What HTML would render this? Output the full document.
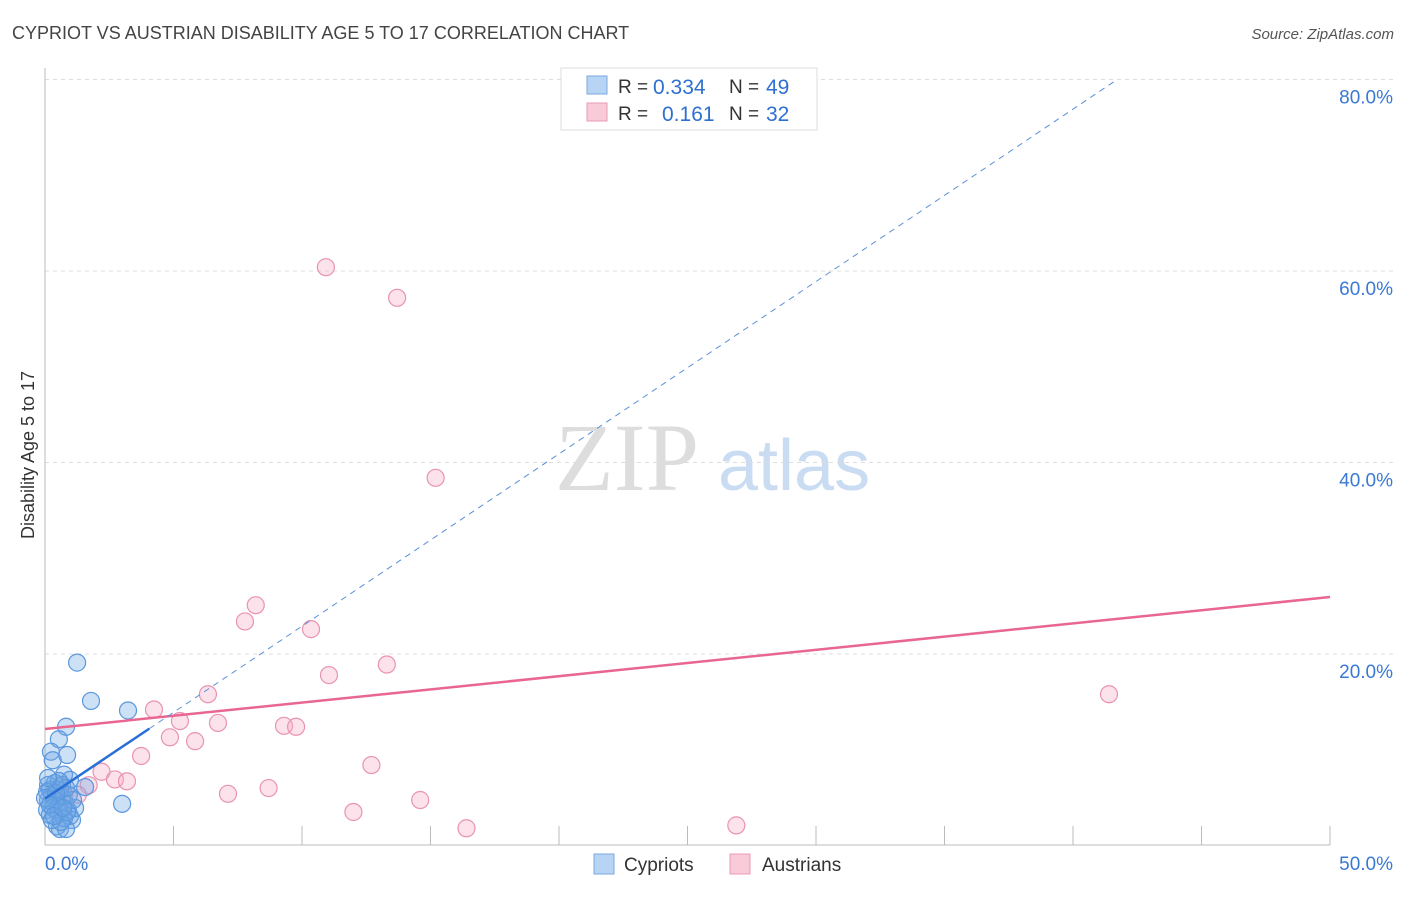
<!DOCTYPE html>
<html><head><meta charset="utf-8"><style>
body{margin:0;background:#fff;font-family:"Liberation Sans",sans-serif}
</style></head><body>
<svg id="chart" width="1406" height="892" xmlns="http://www.w3.org/2000/svg">
<text x="12" y="39" font-size="18" fill="#444">CYPRIOT VS AUSTRIAN DISABILITY AGE 5 TO 17 CORRELATION CHART</text>
<text x="1394" y="39" font-size="15" fill="#555" font-style="italic" text-anchor="end">Source: ZipAtlas.com</text>
<text x="555" y="490" font-size="96" fill="#ddd" font-family="Liberation Serif,serif">ZIP</text>
<text x="718" y="490" font-size="72" fill="#c9dcf2">atlas</text>
<text transform="translate(34,455) rotate(-90)" font-size="18" fill="#333" text-anchor="middle">Disability Age 5 to 17</text>
<g id="grid"></g><g id="marks"></g>
<g>
<rect x="561" y="68" width="256" height="62" fill="#fff" stroke="#ddd"/>
<rect x="587" y="76" width="20" height="18" fill="#b8d4f4" stroke="#7aa8e0"/>
<rect x="587" y="103" width="20" height="18" fill="#f9cbd9" stroke="#e89ab4"/>
<text x="618" y="93" font-size="19" fill="#333">R =</text>
<text x="653" y="94" font-size="21" fill="#2f6fd0">0.334</text>
<text x="729" y="93" font-size="19" fill="#333">N =</text>
<text x="766" y="94" font-size="21" fill="#2f6fd0">49</text>
<text x="618" y="120" font-size="19" fill="#333">R =</text>
<text x="662" y="121" font-size="21" fill="#2f6fd0">0.161</text>
<text x="729" y="120" font-size="19" fill="#333">N =</text>
<text x="766" y="121" font-size="21" fill="#2f6fd0">32</text>
</g>
<g>
<rect x="594" y="854" width="20" height="20" fill="#b8d4f4" stroke="#7aa8e0"/>
<text x="624" y="871" font-size="19" fill="#333">Cypriots</text>
<rect x="730" y="854" width="20" height="20" fill="#f9cbd9" stroke="#e89ab4"/>
<text x="762" y="871" font-size="19" fill="#333">Austrians</text>
</g>
</svg>
<script>
const xTicks=[0,50];
const yTicks=[20,40,60,80];
const blueX=[1.25,1.79,3.23,0.82,0.54,0.23,0.86,0.3,0.74,0.97,3.0,1.56,0.12,0.19,0.27,0.39,0.51,0.08,0.19,0.58,0.66,0.78,0.89,0.97,1.05,0.47,0.58,0.82,0.39,0.66,0.12,0.31,1.17,0.93,0.08,0.51,0.74,0.27,0.0,1.09,0.82,0.43,0.62,0.19,0.86,0.54,0.12,0.35,0.7];
const blueY=[19.1,15.1,14.1,12.4,11.1,9.8,9.45,8.9,7.4,6.85,4.35,6.1,6.32,5.8,5.27,4.75,4.23,3.71,3.19,5.8,5.07,4.44,3.71,3.08,2.66,2.0,1.72,1.72,6.53,6.32,4.75,3.92,3.92,5.27,5.59,3.5,2.87,2.66,4.96,4.75,6.0,5.48,2.45,4.23,3.5,6.74,7.05,3.08,3.92];
const pinkX=[10.93,13.7,15.2,8.2,7.78,10.35,11.05,13.3,6.34,4.24,5.25,6.73,4.86,5.84,9.3,9.77,3.74,12.7,2.2,2.72,3.19,1.7,1.28,0.74,7.12,8.7,12.0,14.6,16.4,26.9,41.4,0.58];
const pinkY=[60.4,57.2,38.4,25.1,23.4,22.6,17.8,18.9,15.8,14.2,13.0,12.8,11.3,10.9,12.5,12.4,9.35,8.4,7.7,6.9,6.7,6.3,5.3,5.3,5.4,6.0,3.5,4.75,1.8,2.1,15.8,6.2];
const blueFit=[4.9,1.80];
const pinkFit=[12.17,0.2756];
const X=v=>45+v*25.7, Y=v=>845.5-v*9.575;
const NS="http://www.w3.org/2000/svg";
const grid=document.getElementById('grid'), marks=document.getElementById('marks');
function mk(tag,at,parent){const e=document.createElementNS(NS,tag);for(const k in at)e.setAttribute(k,at[k]);parent.appendChild(e);return e;}
yTicks.forEach(t=>{
 const l=mk('line',{x1:45,x2:1395,y1:Y(t),y2:Y(t),stroke:'#ddd','stroke-dasharray':'4,4'},grid);
 
 
 const tx=mk('text',{x:1393,y:Y(t)+24,'font-size':19,fill:'#3a78d4','text-anchor':'end'},grid);
 tx.textContent=t.toFixed(1)+'%';
 
 
});
let ax=mk('line',{x1:45,x2:45,y1:68,y2:845,stroke:'#bbb'},grid);


ax=mk('line',{x1:45,x2:1330,y1:845,y2:845,stroke:'#bbb'},grid);


for(let i=1;i<=10;i++){const t=mk('line',{x1:X(i*5),x2:X(i*5),y1:826,y2:845,stroke:'#bbb'},grid);
 
 }
xTicks.forEach((t,i)=>{const tx=mk('text',{x:i?1393:45,y:870,'font-size':19,fill:'#3a78d4','text-anchor':i?'end':'start'},grid);
 tx.textContent=t.toFixed(1)+'%';
 
 });
pinkX.forEach((v,i)=>{const c=mk('circle',{cx:X(v),cy:Y(pinkY[i]),r:8.5,fill:'rgba(246,172,198,0.35)',stroke:'#e993b0','stroke-width':1.2},marks);
 
 });
blueX.forEach((v,i)=>{const c=mk('circle',{cx:X(v),cy:Y(blueY[i]),r:8.5,fill:'rgba(110,165,230,0.35)',stroke:'#5a97dd','stroke-width':1.2},marks);
 
 });
let ln=mk('line',{x1:X(0),y1:Y(pinkFit[0]),x2:X(50),y2:Y(pinkFit[0]+50*pinkFit[1]),stroke:'#e8668f','stroke-width':2.5},marks);


const xEnd=(80-blueFit[0])/blueFit[1];
ln=mk('line',{x1:X(4.06),y1:Y(blueFit[0]+4.06*blueFit[1]),x2:X(xEnd),y2:Y(80),stroke:'#5a8fd8','stroke-width':1,'stroke-dasharray':'6,5'},marks);


ln=mk('line',{x1:X(0),y1:Y(blueFit[0]),x2:X(4.06),y2:Y(blueFit[0]+4.06*blueFit[1]),stroke:'#2a6fd6','stroke-width':2.5},marks);


</script>
</body></html>
